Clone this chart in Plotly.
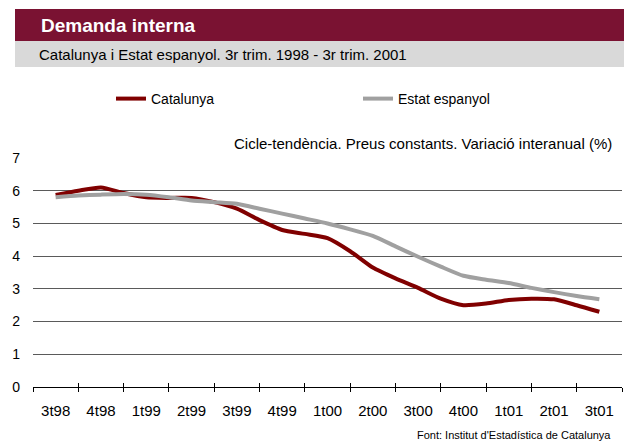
import numpy as np
import plotly.graph_objects as go

# ---- data ----
quarters = ["3t98", "4t98", "1t99", "2t99", "3t99", "4t99", "1t00",
            "2t00", "3t00", "4t00", "1t01", "2t01", "3t01"]
# values sampled every half quarter (3t98 ... 3t01)
catalunya = [5.87, 6.00, 6.10, 5.93, 5.80, 5.78, 5.78, 5.65, 5.45, 5.10,
             4.80, 4.68, 4.55, 4.15, 3.65, 3.32, 3.03, 2.70, 2.50, 2.55,
             2.66, 2.70, 2.68, 2.50, 2.30]
estat = [5.80, 5.85, 5.88, 5.90, 5.88, 5.80, 5.70, 5.65, 5.60, 5.45,
         5.30, 5.15, 5.00, 4.82, 4.62, 4.30, 3.98, 3.68, 3.40, 3.28,
         3.18, 3.03, 2.90, 2.78, 2.68]
y_ticks = [0, 1, 2, 3, 4, 5, 6, 7]

title = "Demanda interna"
subtitle = "Catalunya i Estat espanyol. 3r trim. 1998 - 3r trim. 2001"
note = "Cicle-tendència. Preus constants. Variació interanual (%)"
source = "Font: Institut d'Estadística de Catalunya"

# ---- layout geometry ----
# the page body has an 8px margin, so the figure is drawn 8px smaller
OFF = 8
W, H = 632 - OFF, 444 - OFF
L, R, T, B = 33 - OFF, 10, 158 - OFF, 57
PW, PH = W - L - R, H - T - B

def px(xr):  # reference pixel x -> paper x
    return (xr - OFF - L) / PW

def py(yr):  # reference pixel y -> paper y
    return (H - B - (yr - OFF)) / PH

xs = np.arange(len(catalunya)) / 2.0
bounds = [i - 0.5 for i in range(len(quarters) + 1)]
xrange_ = [-0.5, len(quarters) - 0.5]

FONT = "Liberation Sans, Arial, sans-serif"
RED = "#800000"
GREY = "#A0A0A0"

fig = go.Figure()
fig.add_trace(go.Scatter(x=xs, y=catalunya, name="Catalunya", mode="lines",
                         line=dict(color=RED, width=4, shape="spline", smoothing=0.6)))
fig.add_trace(go.Scatter(x=xs, y=estat, name="Estat espanyol", mode="lines",
                         line=dict(color=GREY, width=4, shape="spline", smoothing=0.6)))

fig.update_layout(
    width=W, height=H,
    margin=dict(l=L, r=R, t=T, b=B, autoexpand=False),
    paper_bgcolor="white", plot_bgcolor="white",
    font=dict(family=FONT, size=14, color="black"),
    xaxis=dict(range=xrange_, tickmode="array", tickvals=bounds,
               showticklabels=False, ticks="outside", ticklen=4,
               tickcolor="black", showgrid=False, zeroline=False,
               showline=True, linecolor="black", linewidth=1),
    xaxis2=dict(range=xrange_, overlaying="x", anchor="y", side="bottom",
                tickmode="array", tickvals=bounds, showticklabels=False,
                ticks="inside", ticklen=4, tickcolor="black",
                showgrid=False, zeroline=False, showline=False),
    xaxis3=dict(range=xrange_, overlaying="x", anchor="y", side="bottom",
                tickmode="array", tickvals=list(range(len(quarters))),
                ticktext=quarters, ticks="", ticklabelstandoff=13,
                showgrid=False, zeroline=False, showline=False,
                tickfont=dict(size=15)),
    yaxis=dict(range=[0, 7], tickmode="array", tickvals=y_ticks,
               showgrid=True, gridcolor="#5A5A5A", gridwidth=1,
               zeroline=False, showline=False, ticks="",
               ticklabelstandoff=12, tickfont=dict(size=14)),
    showlegend=True,
    legend=dict(orientation="h", x=px(111), y=py(99), xanchor="left",
                yanchor="middle", entrywidth=202, entrywidthmode="pixels",
                font=dict(size=14), bgcolor="rgba(0,0,0,0)"),
    shapes=[
        dict(type="rect", xref="paper", yref="paper",
             x0=px(15), x1=px(634), y0=py(41), y1=py(9),
             fillcolor="#7A1232", line=dict(width=0), layer="below"),
        dict(type="rect", xref="paper", yref="paper",
             x0=px(15), x1=px(634), y0=py(67), y1=py(41),
             fillcolor="#D9D9D9", line=dict(width=0), layer="below"),
    ],
    annotations=[
        dict(text="<b>" + title + "</b>", xref="paper", yref="paper",
             x=px(39), y=py(25), xanchor="left", yanchor="middle",
             showarrow=False, font=dict(size=19, color="white", family=FONT)),
        dict(text=subtitle, xref="paper", yref="paper",
             x=px(37), y=py(54), xanchor="left", yanchor="middle",
             showarrow=False, font=dict(size=15, color="black", family=FONT)),
        dict(text=note, xref="paper", yref="paper",
             x=px(614), y=py(143), xanchor="right", yanchor="middle",
             showarrow=False, font=dict(size=15, color="black", family=FONT)),
        dict(text=source, xref="paper", yref="paper",
             x=px(613), y=py(443), xanchor="right", yanchor="bottom",
             showarrow=False, font=dict(size=11, color="black", family=FONT)),
    ],
)
# overlay axes carrying the boundary ticks and the quarter labels
fig.add_trace(go.Scatter(x=[None], y=[None], xaxis="x2", showlegend=False, hoverinfo="skip"))
fig.add_trace(go.Scatter(x=[None], y=[None], xaxis="x3", showlegend=False, hoverinfo="skip"))

fig.write_html("out.html")
